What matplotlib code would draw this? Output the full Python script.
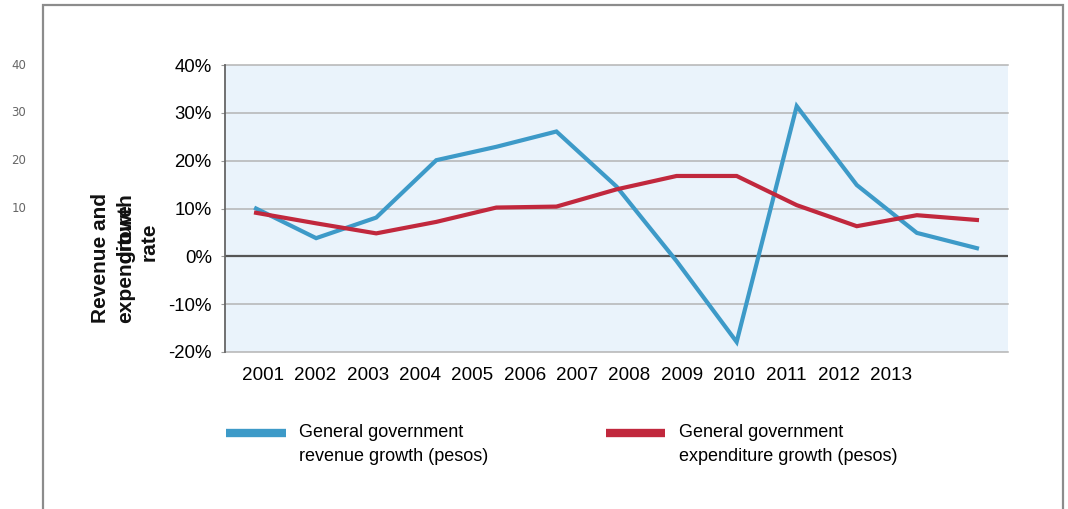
import matplotlib
matplotlib.use("Agg")
import matplotlib.pyplot as plt
from matplotlib.patches import Rectangle
from matplotlib.ticker import FuncFormatter
from matplotlib.transforms import blended_transform_factory

# data (percent growth)
years = [2001, 2002, 2003, 2004, 2005, 2006, 2007, 2008, 2009, 2010, 2011, 2012, 2013]
revenue_growth = [10.0, 3.8, 8.1, 20.1, 22.9, 26.1, 14.6, -1.0, -17.9, 31.4, 14.9, 4.9, 1.7]
expenditure_growth = [9.1, 6.9, 4.8, 7.2, 10.2, 10.4, 14.0, 16.8, 16.8, 10.7, 6.3, 8.6, 7.6]
year_labels = [str(y) for y in years]
y_ticks = [-20, -10, 0, 10, 20, 30, 40]
side_values = [40, 30, 20, 10]

blue = "#3d9ac8"
red = "#c1283d"
font = "Liberation Sans"
plt.rcParams['font.family'] = [font, 'DejaVu Sans']

W, H = 1068, 509
fig = plt.figure(figsize=(W / 100, H / 100), dpi=100)

# outer frame (open at the bottom)
fig.patches.append(Rectangle((43 / W, -0.1), (1063 - 43) / W, 1.1 - 5 / H,
                             transform=fig.transFigure, fill=False,
                             edgecolor="#8c8c8c", linewidth=1.6))

ax = fig.add_axes([225 / W, 1 - 352 / H, (1008 - 225) / W, (352 - 65) / H])
ax.set_facecolor("#eaf3fb")
ax.plot(years, revenue_growth, color=blue, linewidth=3, solid_joinstyle="miter", zorder=3)
ax.plot(years, expenditure_growth, color=red, linewidth=3, solid_joinstyle="miter", zorder=3)

ax.set_xlim(years[0] - 0.517, years[-1] + 0.517)
ax.set_ylim(-20, 40)
ax.set_yticks(y_ticks)
ax.yaxis.set_major_formatter(FuncFormatter(lambda v, p: f"{v:.0f}%"))
ax.tick_params(axis="y", labelsize=13.4, length=3, color="#999999", pad=6.5)
ax.set_xticks([])
for v in y_ticks:
    if v == 0:
        ax.axhline(v, color="#555555", linewidth=1.6, zorder=2)
    else:
        ax.axhline(v, color="#b4b4b4", linewidth=1.1, zorder=1, clip_on=False)
for s in ["top", "right", "bottom"]:
    ax.spines[s].set_visible(False)
ax.spines["left"].set_color("#666666")
ax.spines["left"].set_linewidth(1.3)

# year labels sit on their own scale, as in the original
ax2 = ax.twiny()
ax2.set_xlim(years[0] - 0.727, years[0] + 14.23)
ax2.xaxis.set_ticks_position("bottom")
ax2.xaxis.set_label_position("bottom")
ax2.set_xticks(years)
ax2.set_xticklabels(year_labels)
ax2.tick_params(axis="x", length=0, labelsize=13.6, pad=10.5)
for s in ax2.spines.values():
    s.set_visible(False)

# stray numbers at far left
tr = blended_transform_factory(fig.transFigure, ax.transData)
for v in side_values:
    fig.text(19 / W, v, str(v), transform=tr, ha="center", va="center",
             fontsize=8.5, color="#666666", family="DejaVu Sans")

# overlapping y-axis title
kw = dict(rotation=90, fontsize=15, fontweight="bold", family=font, color="#111111")
fig.text(101 / W, 1 - 258 / H, "Revenue and", ha="center", va="center", **kw)
fig.text(126 / W, 1 - 323 / H, "expenditure", ha="center", va="bottom", **kw)
fig.text(126 / W, 1 - 193 / H, "growth", ha="center", va="top", **kw)
fig.text(149 / W, 1 - 242 / H, "rate", ha="center", va="center", **kw)

# legend
handles = [plt.Line2D([], [], color=blue, linewidth=6, solid_capstyle="butt"),
           plt.Line2D([], [], color=red, linewidth=6, solid_capstyle="butt")]
labels = ["General government\nrevenue growth (pesos)",
          "General government\nexpenditure growth (pesos)"]
leg = fig.legend(handles, labels, loc="upper left",
                 bbox_to_anchor=(226 / W, 1 - 414 / H), ncol=2, frameon=False,
                 fontsize=13, handlelength=3.3, handleheight=5.2,
                 handletextpad=0.75, columnspacing=6.5, borderaxespad=0,
                 borderpad=0)
for t in leg.get_texts():
    t.set_linespacing(1.58)

fig.savefig("out.png", dpi=100)
